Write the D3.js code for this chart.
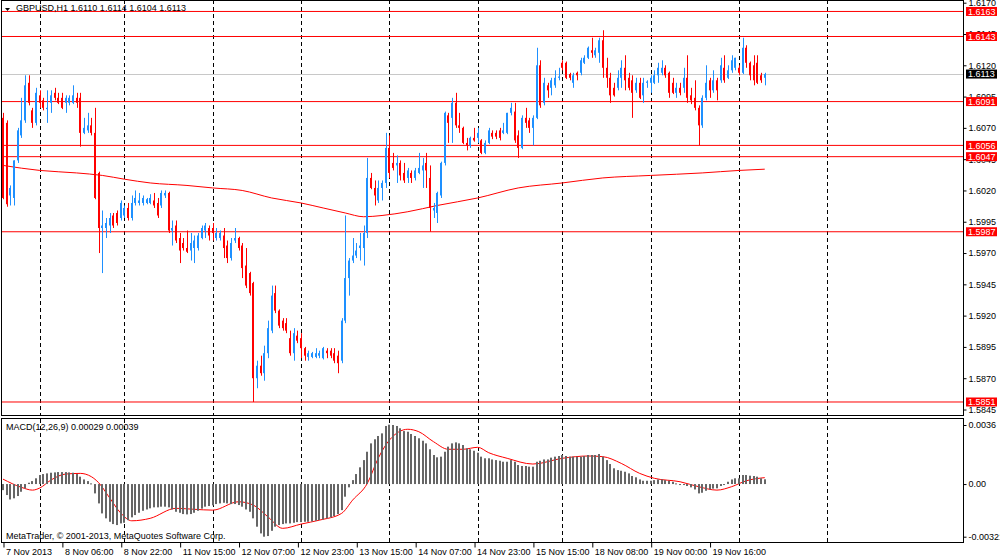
<!DOCTYPE html>
<html lang="en">
<head>
<meta charset="UTF-8">
<title>GBPUSD H1</title>
<script src="https://cdn.jsdelivr.net/npm/d3@7"></script>
<style>
  body { margin: 0; background: #fff; }
  svg { display: block; font-family: "Liberation Sans", Arial, sans-serif; }
</style>
</head>
<body>
<svg id="chart" width="1000" height="559"></svg>
<script>
// ---- data ----
const symbolTitle = 'GBPUSD,H1  1.6110 1.6114 1.6104 1.6113';
const macdTitle = 'MACD(12,26,9) 0.00029 0.00039';
const copyright = 'MetaTrader, \u00a9 2001-2013, MetaQuotes Software Corp.';

// time axis: bar index of each label
const timeBars = [0, 16, 32, 48, 64, 80, 96, 112, 128, 144, 160, 176, 192];
const timeLabels = ['7 Nov 2013', '8 Nov 06:00', '8 Nov 22:00', '11 Nov 15:00', '12 Nov 07:00',
  '12 Nov 23:00', '13 Nov 15:00', '14 Nov 07:00', '14 Nov 23:00', '15 Nov 15:00',
  '18 Nov 08:00', '19 Nov 00:00', '19 Nov 16:00'];
// day separators (dashed verticals)
const dayBars = [10, 33, 57, 81, 105, 129, 152, 176, 200, 224];

const priceTicks = [1.6170, 1.6145, 1.6120, 1.6095, 1.6070, 1.6045, 1.6020, 1.5995,
  1.5970, 1.5945, 1.5920, 1.5895, 1.5870, 1.5845];
const macdTicks = [0.0036, 0, -0.00321];
const macdTickLabels = ['0.0036', '0.00', '-0.00321'];

const levels = [1.6163, 1.6143, 1.6091, 1.6056, 1.6047, 1.5987, 1.5851];
const lastPrice = 1.6113;

// hourly candles [open, high, low, close]
const candles = [
  [1.6078,1.6082,1.6013,1.6014],[1.6074,1.6076,1.6007,1.6009],[1.6016,1.6024,1.6008,1.6022],[1.6014,1.6044,1.6008,1.6044],
  [1.6044,1.6070,1.6042,1.6068],[1.6064,1.6094,1.6062,1.6076],[1.6076,1.6112,1.6074,1.6104],[1.6106,1.6112,1.6088,1.6090],
  [1.6084,1.6086,1.6070,1.6074],[1.6074,1.6102,1.6072,1.6098],[1.6096,1.6100,1.6086,1.6090],[1.6092,1.6094,1.6084,1.6086],
  [1.6085,1.6100,1.6074,1.6086],[1.6090,1.6100,1.6082,1.6096],[1.6098,1.6102,1.6092,1.6094],[1.6094,1.6098,1.6089,1.6090],
  [1.6094,1.6098,1.6085,1.6086],[1.6090,1.6096,1.6082,1.6094],[1.6090,1.6096,1.6088,1.6094],[1.6090,1.6104,1.6089,1.6096],
  [1.6094,1.6098,1.6086,1.6090],[1.6094,1.6098,1.6055,1.6066],[1.6066,1.6078,1.6065,1.6070],[1.6068,1.6082,1.6066,1.6072],
  [1.6072,1.6078,1.6064,1.6066],[1.6066,1.6086,1.6013,1.6014],[1.6034,1.6035,1.5970,1.5990],[1.5990,1.6004,1.5954,1.5992],
  [1.5990,1.5998,1.5982,1.5994],[1.5992,1.6002,1.5986,1.5998],[1.6000,1.6002,1.5990,1.5992],[1.6002,1.6004,1.5992,1.5994],
  [1.5998,1.6012,1.5996,1.6010],[1.6000,1.6008,1.5998,1.6006],[1.6006,1.6010,1.5996,1.5998],[1.5998,1.6016,1.5996,1.6010],
  [1.6010,1.6020,1.6008,1.6014],[1.6010,1.6018,1.6008,1.6012],[1.6010,1.6016,1.6008,1.6014],[1.6010,1.6014,1.6009,1.6013],
  [1.6010,1.6017,1.6009,1.6014],[1.6012,1.6018,1.6006,1.6008],[1.6010,1.6014,1.5998,1.6000],[1.6008,1.6020,1.6006,1.6018],
  [1.6016,1.6020,1.6014,1.6018],[1.6018,1.6019,1.5986,1.5988],[1.5988,1.5996,1.5976,1.5990],[1.5992,1.5996,1.5978,1.5980],
  [1.5982,1.5986,1.5962,1.5972],[1.5978,1.5982,1.5972,1.5974],[1.5974,1.5988,1.5970,1.5971],[1.5972,1.5986,1.5964,1.5978],
  [1.5974,1.5984,1.5962,1.5980],[1.5974,1.5986,1.5972,1.5984],[1.5982,1.5992,1.5981,1.5990],[1.5988,1.5994,1.5982,1.5992],
  [1.5990,1.5992,1.5980,1.5984],[1.5990,1.5994,1.5980,1.5986],[1.5982,1.5990,1.5980,1.5986],[1.5982,1.5988,1.5980,1.5986],
  [1.5984,1.5990,1.5966,1.5974],[1.5976,1.5980,1.5962,1.5966],[1.5966,1.5982,1.5964,1.5978],[1.5980,1.5990,1.5978,1.5982],
  [1.5982,1.5983,1.5972,1.5974],[1.5976,1.5978,1.5950,1.5958],[1.5960,1.5974,1.5942,1.5944],[1.5954,1.5955,1.5936,1.5938],
  [1.5946,1.5947,1.5851,1.5870],[1.5870,1.5884,1.5862,1.5880],[1.5880,1.5888,1.5872,1.5874],[1.5874,1.5896,1.5868,1.5890],
  [1.5890,1.5916,1.5886,1.5910],[1.5908,1.5944,1.5906,1.5936],[1.5938,1.5944,1.5922,1.5924],[1.5924,1.5925,1.5910,1.5912],
  [1.5916,1.5918,1.5908,1.5910],[1.5914,1.5918,1.5906,1.5908],[1.5902,1.5908,1.5888,1.5890],[1.5890,1.5910,1.5884,1.5906],
  [1.5904,1.5908,1.5898,1.5900],[1.5902,1.5906,1.5886,1.5894],[1.5894,1.5895,1.5884,1.5888],[1.5887,1.5892,1.5884,1.5890],
  [1.5887,1.5891,1.5886,1.5890],[1.5887,1.5894,1.5886,1.5890],[1.5888,1.5892,1.5886,1.5890],[1.5886,1.5895,1.5885,1.5894],
  [1.5892,1.5894,1.5886,1.5890],[1.5892,1.5894,1.5886,1.5888],[1.5890,1.5894,1.5882,1.5884],[1.5888,1.5892,1.5874,1.5882],
  [1.5884,1.5918,1.5882,1.5916],[1.5916,1.6000,1.5914,1.5950],[1.5950,1.5966,1.5936,1.5964],[1.5964,1.5982,1.5962,1.5968],
  [1.5968,1.5978,1.5966,1.5972],[1.5974,1.5986,1.5964,1.5976],[1.5974,1.5992,1.5960,1.5986],[1.5986,1.6046,1.5982,1.6030],
  [1.6030,1.6034,1.6021,1.6022],[1.6022,1.6028,1.6008,1.6016],[1.6012,1.6028,1.6010,1.6022],[1.6022,1.6028,1.6012,1.6026],
  [1.6026,1.6066,1.6022,1.6054],[1.6054,1.6064,1.6030,1.6034],[1.6042,1.6050,1.6036,1.6038],[1.6040,1.6048,1.6026,1.6042],
  [1.6042,1.6044,1.6028,1.6032],[1.6034,1.6042,1.6026,1.6028],[1.6030,1.6038,1.6026,1.6036],[1.6034,1.6036,1.6026,1.6030],
  [1.6030,1.6038,1.6028,1.6036],[1.6034,1.6050,1.6033,1.6038],[1.6036,1.6046,1.6022,1.6040],[1.6042,1.6050,1.6022,1.6036],
  [1.6030,1.6040,1.5987,1.6006],[1.6004,1.6010,1.5998,1.6006],[1.6002,1.6019,1.5994,1.6018],[1.6016,1.6043,1.6014,1.6042],
  [1.6042,1.6083,1.6040,1.6082],[1.6080,1.6082,1.6058,1.6074],[1.6078,1.6094,1.6058,1.6090],[1.6090,1.6098,1.6070,1.6072],
  [1.6072,1.6082,1.6066,1.6070],[1.6070,1.6071,1.6057,1.6058],[1.6058,1.6062,1.6052,1.6056],[1.6056,1.6063,1.6054,1.6062],
  [1.6062,1.6070,1.6059,1.6060],[1.6062,1.6070,1.6058,1.6066],[1.6060,1.6061,1.6049,1.6050],[1.6050,1.6060,1.6049,1.6058],
  [1.6058,1.6070,1.6057,1.6068],[1.6066,1.6068,1.6061,1.6063],[1.6066,1.6068,1.6061,1.6063],[1.6068,1.6070,1.6060,1.6062],
  [1.6066,1.6074,1.6065,1.6068],[1.6066,1.6082,1.6065,1.6082],[1.6082,1.6090,1.6080,1.6086],[1.6083,1.6090,1.6058,1.6060],
  [1.6064,1.6068,1.6046,1.6054],[1.6054,1.6080,1.6053,1.6078],[1.6078,1.6086,1.6070,1.6074],[1.6076,1.6078,1.6066,1.6070],
  [1.6070,1.6080,1.6056,1.6078],[1.6078,1.6134,1.6077,1.6120],[1.6120,1.6124,1.6086,1.6088],[1.6090,1.6110,1.6088,1.6106],
  [1.6104,1.6106,1.6094,1.6100],[1.6102,1.6110,1.6096,1.6108],[1.6104,1.6116,1.6102,1.6110],[1.6110,1.6118,1.6108,1.6111],
  [1.6122,1.6124,1.6116,1.6118],[1.6122,1.6123,1.6109,1.6110],[1.6113,1.6114,1.6108,1.6110],[1.6106,1.6114,1.6102,1.6112],
  [1.6114,1.6115,1.6108,1.6112],[1.6114,1.6126,1.6112,1.6124],[1.6122,1.6128,1.6121,1.6126],[1.6126,1.6135,1.6125,1.6134],
  [1.6132,1.6142,1.6126,1.6130],[1.6128,1.6134,1.6126,1.6132],[1.6130,1.6142,1.6122,1.6140],[1.6140,1.6148,1.6110,1.6118],
  [1.6118,1.6126,1.6102,1.6110],[1.6110,1.6114,1.6090,1.6096],[1.6102,1.6106,1.6095,1.6096],[1.6102,1.6116,1.6100,1.6110],
  [1.6110,1.6124,1.6102,1.6118],[1.6118,1.6128,1.6100,1.6108],[1.6110,1.6114,1.6100,1.6102],[1.6108,1.6112,1.6078,1.6098],
  [1.6100,1.6110,1.6098,1.6106],[1.6106,1.6110,1.6093,1.6094],[1.6096,1.6110,1.6090,1.6106],[1.6106,1.6108,1.6102,1.6107],
  [1.6106,1.6112,1.6098,1.6110],[1.6106,1.6116,1.6105,1.6112],[1.6112,1.6122,1.6106,1.6118],[1.6114,1.6124,1.6112,1.6118],
  [1.6118,1.6120,1.6110,1.6112],[1.6114,1.6115,1.6094,1.6098],[1.6106,1.6110,1.6097,1.6098],[1.6098,1.6106,1.6094,1.6102],
  [1.6102,1.6106,1.6096,1.6098],[1.6102,1.6118,1.6098,1.6110],[1.6110,1.6128,1.6090,1.6094],[1.6096,1.6102,1.6089,1.6092],
  [1.6094,1.6108,1.6084,1.6086],[1.6086,1.6088,1.6056,1.6072],[1.6072,1.6096,1.6070,1.6094],[1.6094,1.6120,1.6092,1.6106],
  [1.6108,1.6110,1.6094,1.6100],[1.6100,1.6116,1.6098,1.6108],[1.6108,1.6110,1.6092,1.6100],[1.6108,1.6126,1.6106,1.6120],
  [1.6118,1.6128,1.6106,1.6108],[1.6110,1.6120,1.6109,1.6116],[1.6116,1.6128,1.6114,1.6124],[1.6118,1.6126,1.6116,1.6126],
  [1.6118,1.6120,1.6112,1.6114],[1.6114,1.6142,1.6113,1.6134],[1.6134,1.6136,1.6118,1.6122],[1.6122,1.6123,1.6108,1.6112],
  [1.6120,1.6128,1.6104,1.6108],[1.6122,1.6128,1.6105,1.6106],[1.6112,1.6114,1.6106,1.6108],[1.6110,1.6114,1.6104,1.6113]
];

// moving average line, sampled at bar indices
const maBars = [0, 10, 20, 27, 33, 40, 50, 57, 65, 73, 81, 87, 93, 98, 103, 110, 118, 129, 140, 152, 163, 176, 190, 200, 207];
const maValues = [1.6040, 1.6036, 1.6034, 1.6032, 1.6029, 1.6026, 1.6024, 1.6022, 1.6020, 1.6014, 1.6010, 1.6006,
  1.6002, 1.5999, 1.6000, 1.6003, 1.6008, 1.6014, 1.6022, 1.6026, 1.6030, 1.6032, 1.6034, 1.6036, 1.6037];

// MACD histogram, one value per bar
const macdValues = [
  -0.00037,-0.00067,-0.00094,-0.00087,-0.00073,-0.00047,-0.00026,0.00008,0.00018,0.00035,
  0.00055,0.00061,0.00065,0.00069,0.00071,0.00073,0.00073,0.00073,0.00071,0.00069,
  0.00061,0.00045,0.00028,0.00018,0.00004,-0.00057,-0.00118,-0.00179,-0.00209,-0.0023,
  -0.00244,-0.0025,-0.0024,-0.00236,-0.0022,-0.00203,-0.00189,-0.00175,-0.00163,-0.00155,
  -0.00148,-0.00142,-0.00142,-0.00138,-0.00138,-0.00142,-0.00155,-0.00169,-0.00175,-0.00183,
  -0.00185,-0.00183,-0.00175,-0.00163,-0.0015,-0.00138,-0.00134,-0.0013,-0.00122,-0.00118,
  -0.00114,-0.00118,-0.00122,-0.00122,-0.00128,-0.00138,-0.00155,-0.00169,-0.00209,-0.0026,
  -0.00301,-0.00321,-0.00317,-0.00285,-0.0026,-0.0025,-0.00244,-0.0024,-0.0024,-0.00236,
  -0.00232,-0.00232,-0.0023,-0.0023,-0.00228,-0.00224,-0.0022,-0.00216,-0.00209,-0.00203,
  -0.00195,-0.00183,-0.00159,-0.00077,-0.0002,0.00024,0.00061,0.00102,0.00146,0.00197,
  0.00248,0.00273,0.00293,0.00309,0.00354,0.00362,0.0036,0.00354,0.0034,0.00323,
  0.00319,0.00305,0.00293,0.00279,0.00264,0.00248,0.00212,0.00177,0.00163,0.00167,
  0.00197,0.00228,0.00248,0.00254,0.00248,0.00238,0.00218,0.00212,0.00203,0.00191,
  0.00167,0.00157,0.00157,0.0015,0.00146,0.00142,0.00136,0.00136,0.00146,0.00136,
  0.00116,0.0011,0.0011,0.00106,0.00106,0.00136,0.00142,0.0015,0.0015,0.00161,
  0.00167,0.00171,0.00177,0.00171,0.00167,0.00167,0.00167,0.00167,0.00171,0.00177,
  0.00177,0.00177,0.00183,0.00167,0.00146,0.00122,0.00096,0.00085,0.00081,0.00075,
  0.00065,0.00049,0.00041,0.00028,0.0002,0.0002,0.0002,0.00024,0.00028,0.00028,
  0.00024,0.0002,0.00014,0.00004,0,-0.00006,-0.00012,-0.0002,-0.00033,-0.00057,
  -0.00053,-0.00041,-0.00033,-0.00028,-0.00026,-0.00012,0,0.00014,0.00028,0.00035,
  0.00035,0.00055,0.00055,0.00051,0.00049,0.00045,0.00035,0.00029
];

// MACD signal line, sampled at bar indices
const signalBars = [0, 5, 8, 10, 13, 17, 21, 24, 26, 29, 32, 35, 40, 47, 52, 57, 64, 68, 72, 76, 81, 86, 92, 95,
  99, 102, 105, 110, 113, 117, 121, 125, 129, 132, 137, 144, 152, 159, 163, 168, 173, 177, 184, 189, 194, 198, 202, 207];
const signalValues = [0.0003, -0.0002, -0.00037, -0.00024, 0.00024, 0.00061, 0.00065, 0.00045, 0.00008, -0.00085,
  -0.00177, -0.00224, -0.00209, -0.00148, -0.00154, -0.00159, -0.00108, -0.00128, -0.002, -0.0027, -0.00244, -0.0022,
  -0.00179, -0.00098, 0.00004, 0.00159, 0.00268, 0.00334, 0.00319, 0.00258, 0.00212, 0.00212, 0.00224, 0.00191,
  0.00157, 0.00122, 0.00157, 0.00171, 0.00167, 0.00126, 0.00065, 0.00035, 0.00014, -0.00016, -0.00037, -0.00016,
  0.0002, 0.00039];

// ---- layout ----
const plotRight = 963;
const mainTop = 0, mainBottom = 415;
const macdTop = 419, macdBottom = 542;
const fontSize = 9;

const svg = d3.select('#chart');
svg.append('rect').attr('width', 1000).attr('height', 559).attr('fill', '#fff');

const x = d3.scaleLinear().domain([-0.815, 260.87]).range([0, plotRight]);
const y = d3.scaleLinear().domain([1.5845, 1.6170]).range([409.5, 2.7]);
const ym = d3.scaleLinear().domain([-0.00321, 0.0036]).range([536.7, 425]);
const px = i => Math.round(x(i));

const defs = svg.append('defs');
defs.append('clipPath').attr('id', 'clipMain').append('rect')
    .attr('x', 2).attr('y', mainTop).attr('width', plotRight - 2).attr('height', mainBottom - mainTop);
defs.append('clipPath').attr('id', 'clipMacd').append('rect')
    .attr('x', 2).attr('y', macdTop).attr('width', plotRight - 2).attr('height', macdBottom - macdTop);

// dashed day separators
[[mainTop, mainBottom], [macdTop, macdBottom]].forEach(([t, b]) => {
    svg.append('g').selectAll('line').data(dayBars).join('line')
        .attr('x1', d => px(d) + 0.5).attr('x2', d => px(d) + 0.5)
        .attr('y1', t).attr('y2', b)
        .attr('stroke', '#000').attr('stroke-dasharray', '4,3');
});

// ---- main panel ----
const main = svg.append('g').attr('clip-path', 'url(#clipMain)');

main.append('line')
    .attr('x1', 0).attr('x2', plotRight)
    .attr('y1', Math.round(y(lastPrice)) + 0.5).attr('y2', Math.round(y(lastPrice)) + 0.5)
    .attr('stroke', '#c8c8c8');

main.append('g').selectAll('line').data(levels).join('line')
    .attr('x1', 0).attr('x2', plotRight)
    .attr('y1', d => y(d)).attr('y2', d => y(d))
    .attr('stroke', '#ff0000');

main.append('path')
    .datum(maBars.map((b, i) => [b, maValues[i]]))
    .attr('fill', 'none').attr('stroke', '#ff0000').attr('stroke-width', 1)
    .attr('d', d3.line().x(d => x(d[0])).y(d => y(d[1])).curve(d3.curveMonotoneX));

const candleColor = d => d[3] >= d[0] ? '#1e90ff' : '#ff0000';
const cg = main.append('g');
cg.selectAll('rect.wick').data(candles).join('rect')
    .attr('class', 'wick')
    .attr('x', (d, i) => px(i))
    .attr('width', 1)
    .attr('y', d => y(d[1]))
    .attr('height', d => Math.max(1, y(d[2]) - y(d[1])))
    .attr('fill', candleColor);
cg.selectAll('rect.body').data(candles).join('rect')
    .attr('class', 'body')
    .attr('x', (d, i) => px(i) - 1)
    .attr('width', 2)
    .attr('y', d => y(Math.max(d[0], d[3])))
    .attr('height', d => Math.max(1, Math.abs(y(d[0]) - y(d[3]))))
    .attr('fill', candleColor);

// ---- MACD panel (signal under the histogram, as in the terminal) ----
const macd = svg.append('g').attr('clip-path', 'url(#clipMacd)');
macd.append('path')
    .datum(signalBars.map((b, i) => [b, signalValues[i]]))
    .attr('fill', 'none').attr('stroke', '#ff0000').attr('stroke-width', 1)
    .attr('d', d3.line().x(d => x(d[0])).y(d => ym(d[1])).curve(d3.curveMonotoneX));
macd.selectAll('rect').data(macdValues).join('rect')
    .attr('x', (d, i) => px(i) - 1)
    .attr('width', 2)
    .attr('y', d => ym(Math.max(0, d)))
    .attr('height', d => Math.max(1, Math.abs(ym(d) - ym(0))))
    .attr('fill', '#666');

// ---- frames ----
svg.append('rect').attr('x', 1.5).attr('y', 0.5).attr('width', plotRight - 1).attr('height', mainBottom)
    .attr('fill', 'none').attr('stroke', '#000');
svg.append('rect').attr('x', 1.5).attr('y', macdTop - 0.5).attr('width', plotRight - 1).attr('height', macdBottom - macdTop + 1)
    .attr('fill', 'none').attr('stroke', '#000');

// ---- axes ----
const styleAxis = g => {
    g.select('.domain').remove();
    g.attr('font-family', null).attr('font-size', fontSize);
    g.selectAll('line').attr('stroke', '#000');
    g.selectAll('text').attr('fill', '#000');
};

svg.append('g')
    .attr('transform', `translate(${plotRight + 0.5},0)`)
    .call(d3.axisRight(y).tickValues(priceTicks).tickSize(3).tickPadding(2).tickFormat(d3.format('.4f')))
    .call(styleAxis);

svg.append('g')
    .attr('transform', `translate(${plotRight + 0.5},0)`)
    .call(d3.axisRight(ym).tickValues(macdTicks).tickSize(3).tickPadding(2)
        .tickFormat((d, i) => macdTickLabels[i]))
    .call(styleAxis);

svg.append('g')
    .attr('transform', `translate(0.5,${macdBottom + 0.5})`)
    .call(d3.axisBottom(x).tickValues(timeBars).tickSize(5).tickPadding(1)
        .tickFormat((d, i) => timeLabels[i]))
    .call(styleAxis)
    .call(g => g.selectAll('text').attr('text-anchor', 'start').attr('x', 2).attr('dy', '0.71em'));

// ---- price labels on the right ----
const tag = (v, fill) => {
    const g = svg.append('g').attr('transform', `translate(${plotRight + 3},${y(v)})`);
    g.append('rect').attr('x', 0).attr('y', -4.5).attr('width', 31).attr('height', 9).attr('fill', fill);
    g.append('text').attr('x', 2).attr('dy', '0.35em').attr('font-size', fontSize)
        .attr('fill', '#fff').text(d3.format('.4f')(v));
};
levels.forEach(v => tag(v, '#ff0000'));
tag(lastPrice, '#000');

// ---- titles ----
svg.append('path').attr('d', 'M5,8 L10,8 L7.5,11 Z').attr('fill', '#000');
svg.append('text').attr('x', 16).attr('y', 11).attr('font-size', fontSize).text(symbolTitle);
svg.append('text').attr('x', 6).attr('y', 430).attr('font-size', fontSize).text(macdTitle);
svg.append('text').attr('x', 6).attr('y', 539).attr('font-size', fontSize).text(copyright);
</script>
</body>
</html>
